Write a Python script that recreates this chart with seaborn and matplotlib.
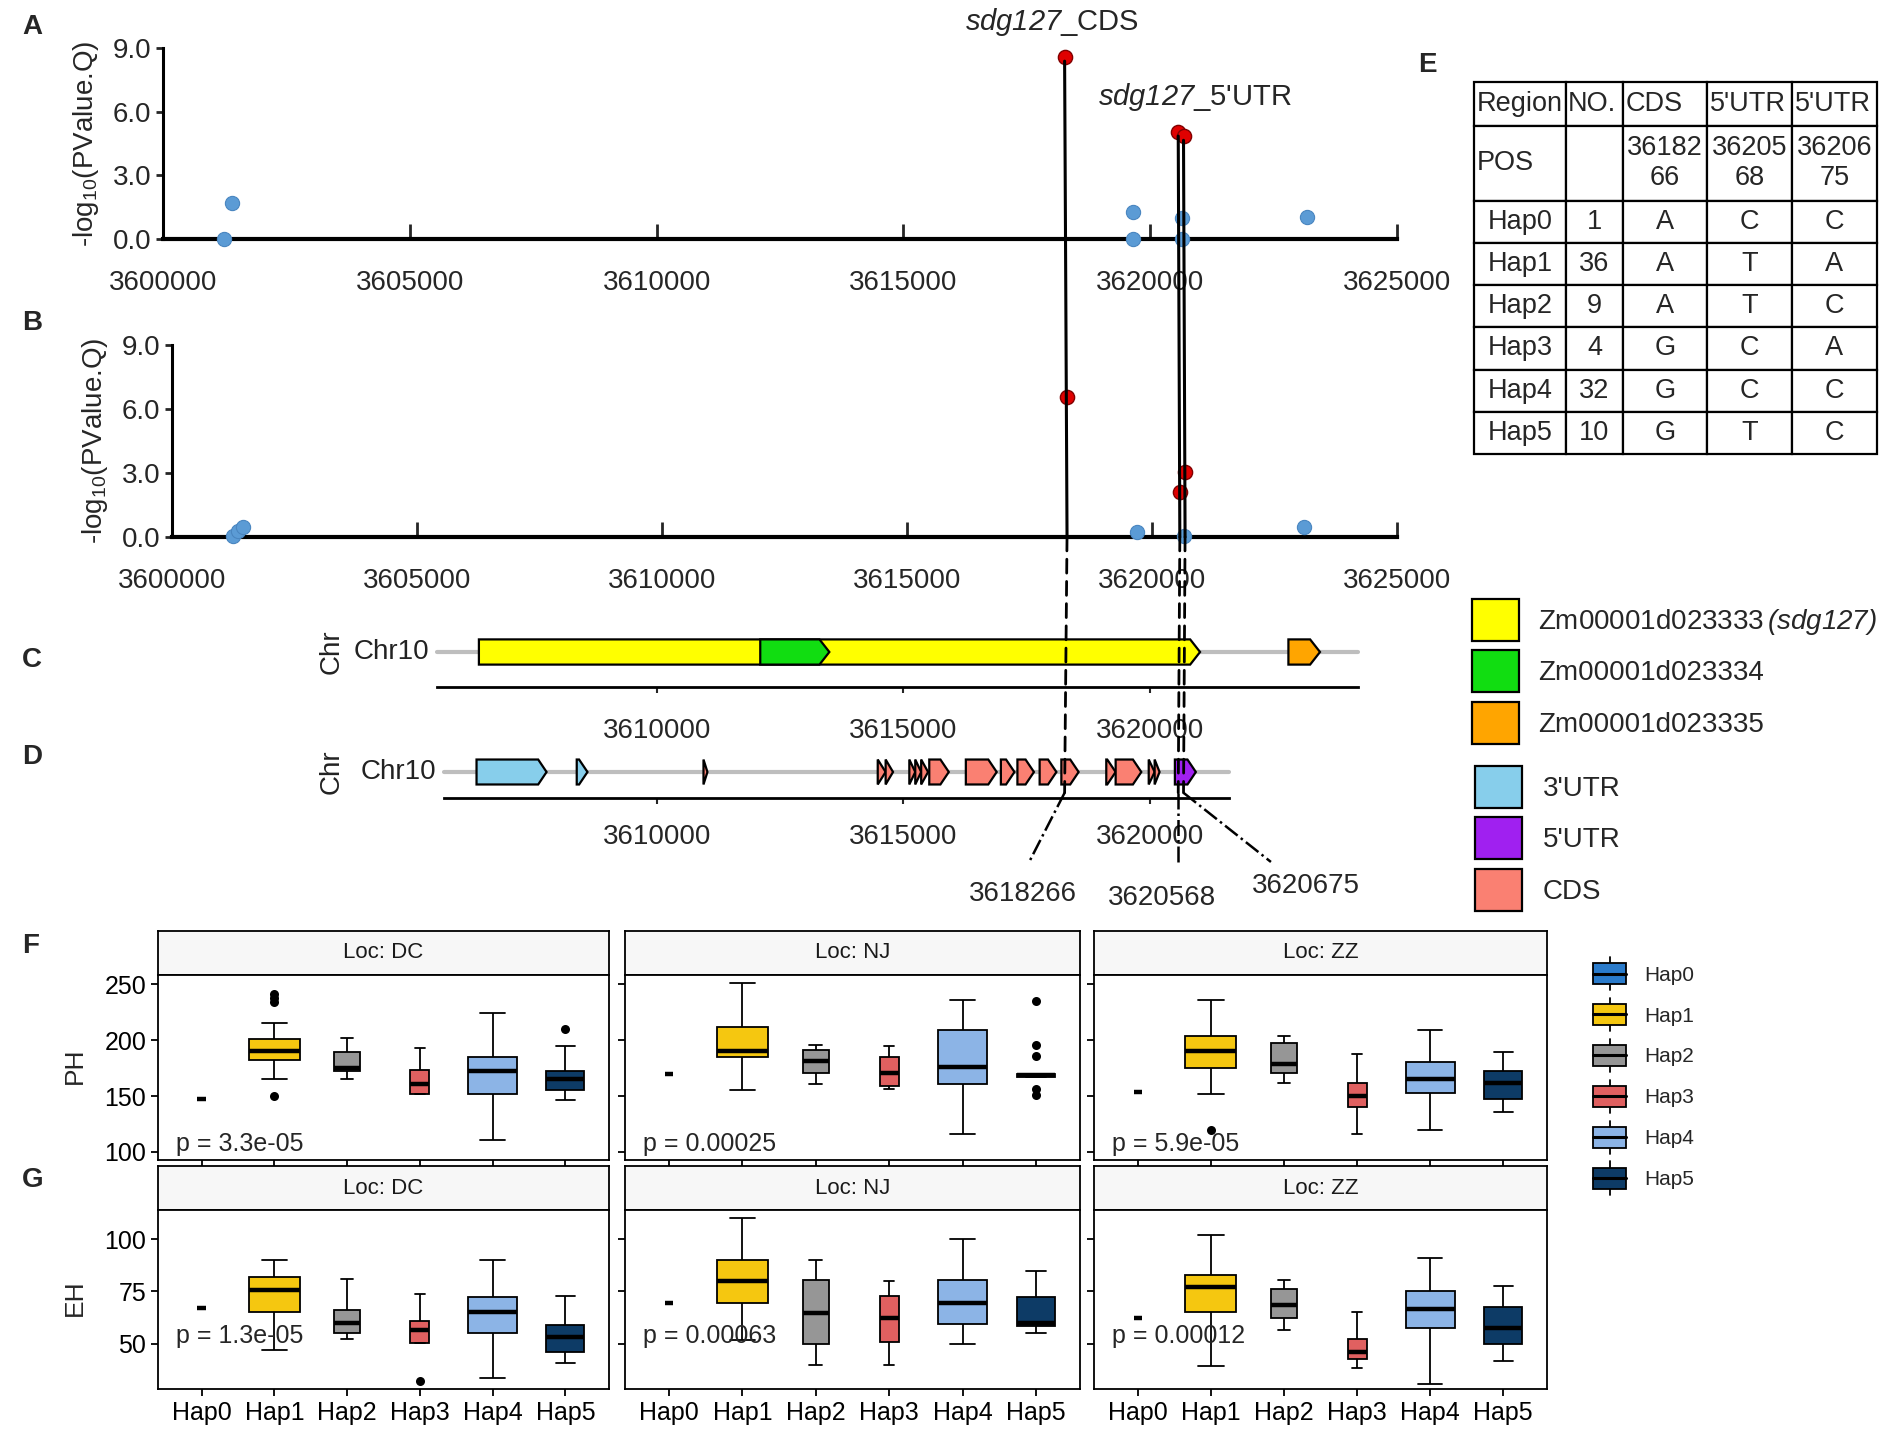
import numpy as np
import pandas as pd
import matplotlib
matplotlib.use('Agg')
import matplotlib.pyplot as plt
from matplotlib.patches import Polygon, Patch, Rectangle, ConnectionPatch
from matplotlib.lines import Line2D
from matplotlib.legend_handler import HandlerBase
import seaborn as sns

sns.set_style('white')
plt.rcParams['font.family'] = ['Liberation Sans', 'DejaVu Sans']
plt.rcParams['mathtext.fontset'] = 'custom'
plt.rcParams['mathtext.rm'] = 'Liberation Sans'
plt.rcParams['mathtext.it'] = 'Liberation Sans:italic'
# \mathsf is used for fully italic gene names (digits included)
plt.rcParams['mathtext.sf'] = 'Liberation Sans:italic'

W, H = 1890, 1450

# ---------------------------------------------------------------
# data: association scan (A, B)
# ---------------------------------------------------------------
blue_A_pos = [3601240, 3601390, 3619660, 3619660, 3620640, 3620640, 3623170]
blue_A_val = [0.0, 1.7, 1.27, 0.0, 1.0, 0.0, 1.05]
blue_B_pos = [3601250, 3601350, 3601450, 3619700, 3620650, 3623100]
blue_B_val = [0.05, 0.3, 0.45, 0.25, 0.05, 0.45]
lead_pos = [3618266, 3620568, 3620675]
lead_A_val = [8.58, 5.05, 4.85]
lead_B_val = [6.56, 2.1, 3.05]
lead_labels = ['3618266', '3620568', '3620675']
scan_ticks = [3600000, 3605000, 3610000, 3615000, 3620000, 3625000]

# gene models (C)
gene_names = ['Zm00001d023333', 'Zm00001d023334', 'Zm00001d023335']
gene_start = [3606400, 3612100, 3622800]
gene_end = [3621010, 3613500, 3623440]
gene_colors = ['#FFFF00', '#11DD11', '#FFA500']
track_C = [3605550, 3624210]

# transcript features (D)
feat_type = ['3UTR', '3UTR', 'CDS', 'CDS', 'CDS', 'CDS', 'CDS', 'CDS', 'CDS', 'CDS',
             'CDS', 'CDS', 'CDS', 'CDS', 'CDS', 'CDS', 'CDS', 'CDS', '5UTR']
feat_start = [3606352, 3608382, 3610950, 3614480, 3614640, 3615120, 3615240, 3615360,
              3615524, 3616265, 3616975, 3617310, 3617760, 3618200, 3619110, 3619300,
              3619970, 3620090, 3620500]
feat_end = [3607771, 3608600, 3611030, 3614640, 3614790, 3615240, 3615360, 3615500,
            3615920, 3616890, 3617250, 3617645, 3618100, 3618550, 3619300, 3619820,
            3620090, 3620190, 3620925]
feat_colors = {'3UTR': '#87CEEB', '5UTR': '#A020F0', 'CDS': '#FA8072'}
feat_names = {'3UTR': "3'UTR", '5UTR': "5'UTR", 'CDS': 'CDS'}
track_D = [3605690, 3621600]

# position labels under D
label_x = [3617427, 3620240, 3623155]
label_y = [-4.69, -4.85, -4.38]
guide_end_x = [3617548, 3620568, 3622446]
guide_end_y = [-3.46, -3.46, -3.46]

# haplotype table (E)
tab_header = ['Region', 'NO.', 'CDS', "5'UTR", "5'UTR"]
tab_pos = ['POS', '', '36182\n66', '36205\n68', '36206\n75']
haps = ['Hap0', 'Hap1', 'Hap2', 'Hap3', 'Hap4', 'Hap5']
tab_no = ['1', '36', '9', '4', '32', '10']
tab_cds = ['A', 'A', 'A', 'G', 'G', 'G']
tab_utr1 = ['C', 'T', 'T', 'C', 'C', 'T']
tab_utr2 = ['C', 'A', 'C', 'A', 'C', 'C']

# phenotypes (F, G): [lower whisker, Q1, median, Q3, upper whisker] per haplotype
locs = ['DC', 'NJ', 'ZZ']
hap_colors = ['#2A7BCB', '#F5C710', '#969696', '#E06060', '#8CB4E6', '#0D3B66']
n_pheno = [1, 36, 9, 5, 33, 20]

ph_dc = [[147], [165, 182, 190, 201, 215], [165, 172, 175, 189, 202], [152, 152, 161, 173, 193],
         [111, 152, 172, 185, 224], [146, 155, 165, 172, 195]]
ph_nj = [[170], [155, 185, 190, 212, 251], [161, 171, 181, 191, 196], [156, 159, 171, 185, 195],
         [116, 161, 176, 209, 236], [167, 167, 169, 170, 170]]
ph_zz = [[154], [152, 175, 190, 204, 236], [162, 171, 179, 197, 204], [116, 140, 150, 162, 188],
         [120, 153, 165, 180, 209], [136, 147, 162, 172, 189]]
eh_dc = [[67], [47, 65, 75.5, 82, 90], [52.5, 55, 60, 66, 81], [50.3, 50.3, 56.5, 61, 73.7],
         [33.6, 55, 65, 72.3, 90], [41, 46, 53, 59, 72.6]]
eh_nj = [[69.7], [52, 69.4, 79.8, 90, 110], [40, 50, 64.6, 80.3, 90], [40, 51, 62.2, 72.6, 79.8],
         [50, 59.5, 69.7, 80.3, 100], [55, 58.7, 59.8, 72.4, 84.6]]
eh_zz = [[62.3], [39.5, 65.3, 77, 82.8, 102], [56.4, 62.4, 68.5, 76.2, 80.3], [38.5, 42.7, 46.1, 52.5, 65],
         [30.6, 57.3, 66.5, 75.3, 91], [41.6, 50, 57.7, 67.8, 77.8]]

ph_out_loc = ['DC', 'DC', 'DC', 'DC', 'DC', 'NJ', 'NJ', 'NJ', 'NJ', 'NJ', 'ZZ']
ph_out_hap = ['Hap1', 'Hap1', 'Hap1', 'Hap1', 'Hap5', 'Hap5', 'Hap5', 'Hap5', 'Hap5', 'Hap5', 'Hap1']
ph_out_val = [241, 237.5, 234, 150, 210, 235, 196, 186, 156, 151, 120]
eh_out_loc = ['DC']
eh_out_hap = ['Hap3']
eh_out_val = [32]

p_ph = ['p = 3.3e-05', 'p = 0.00025', 'p = 5.9e-05']
p_eh = ['p = 1.3e-05', 'p = 0.00063', 'p = 0.00012']

# ---------------------------------------------------------------
fig = plt.figure(figsize=(W / 100, H / 100), dpi=100)


def px_axes(l, t, r, b):
    return fig.add_axes([l / W, 1 - b / H, (r - l) / W, (b - t) / H])


def scan_panel(ax, bpos, bval, rval):
    sns.scatterplot(x=bpos, y=bval, color='#5B9BD5', edgecolor='#4A86C0', linewidth=0.8,
                    s=105, ax=ax, zorder=4, clip_on=False)
    sns.scatterplot(x=lead_pos, y=rval, color='#E00000', edgecolor='#800000', linewidth=1,
                    s=105, ax=ax, zorder=4, clip_on=False)
    ax.set_xlim(3600000, 3625000)
    ax.set_ylim(0, 9)
    ax.set_xticks(scan_ticks)
    ax.set_xticklabels([str(t) for t in scan_ticks])
    ax.set_yticks([0, 3, 6, 9])
    ax.set_yticklabels(['0.0', '3.0', '6.0', '9.0'])
    for s in ['top', 'right']:
        ax.spines[s].set_visible(False)
    ax.spines['bottom'].set_linewidth(3)
    ax.spines['left'].set_linewidth(2.2)
    for s in ['bottom', 'left']:
        ax.spines[s].set_color('black')
    ax.tick_params(axis='x', direction='in', length=11, width=2, pad=22, labelsize=20, bottom=True)
    ax.tick_params(axis='y', direction='out', length=5, width=2, labelsize=20, left=True)
    ax.set_ylabel(r'-log$_{10}$(PValue.Q)', fontsize=20, labelpad=8)
    ax.set_facecolor('none')


axA = px_axes(163, 48, 1397, 239)
scan_panel(axA, blue_A_pos, blue_A_val, lead_A_val)
axB = px_axes(172, 345, 1397, 537)
scan_panel(axB, blue_B_pos, blue_B_val, lead_B_val)

fig.text(1052 / W, 1 - 22 / H, r'$\mathsf{sdg127}$_CDS', fontsize=21, ha='center', va='center')
fig.text(1195 / W, 1 - 97 / H, r"$\mathsf{sdg127}$_5'UTR", fontsize=21, ha='center', va='center')


# ---------------------------------------------------------------
def arrow(ax, start, end, color, half, head):
    hl = min(head, end - start)
    pts = [(start, -half), (end - hl, -half), (end, 0), (end - hl, half), (start, half)]
    ax.add_patch(Polygon(pts, closed=True, facecolor=color, edgecolor='black', lw=1.6, zorder=3))


def track_axes(ax, track, pad):
    ax.set_xlim(3600000, 3625000)
    ax.set_ylim(-1, 1)
    ax.plot(track, [0, 0], color='#BEBEBE', lw=3, zorder=1)
    for s in ['top', 'right', 'left']:
        ax.spines[s].set_visible(False)
    ax.spines['bottom'].set_bounds(track[0], track[1])
    ax.spines['bottom'].set_linewidth(2)
    ax.spines['bottom'].set_color('black')
    ax.set_yticks([])
    ax.set_xticks([3610000, 3615000, 3620000])
    ax.set_xticklabels(['3610000', '3615000', '3620000'])
    ax.tick_params(axis='x', direction='out', length=4, width=1.5, pad=pad, labelsize=20, bottom=True)
    ax.text(track[0] - 150, 0, 'Chr10', fontsize=20, ha='right', va='center', color='#222222')
    ax.text(3600000 + (332 - 163) * 20.24, 0, 'Chr', fontsize=20, rotation=90,
            ha='center', va='center', color='#222222')
    ax.set_facecolor('none')


axC = px_axes(163, 617, 1397, 687)
track_axes(axC, track_C, 18)
for s, e, c in zip(gene_start, gene_end, gene_colors):
    arrow(axC, s, e, c, 0.36, 200)

axD = px_axes(163, 746, 1397, 798)
track_axes(axD, track_D, 14.5)
for t, s, e in zip(feat_type, feat_start, feat_end):
    arrow(axD, s, e, feat_colors[t], 0.48, 170)

# connecting lines between the panels
for x, ya in zip(lead_pos, lead_A_val):
    fig.add_artist(ConnectionPatch(xyA=(x, ya - 0.2), coordsA=axA.transData, xyB=(x, 0),
                                   coordsB=axB.transData, color='black', lw=2.2))
    fig.add_artist(ConnectionPatch(xyA=(x, 0), coordsA=axB.transData, xyB=(x, -0.8),
                                   coordsB=axD.transData, color='black', lw=2, linestyle=(0, (5, 3))))

for x, gx, gy, lx, ly, lab in zip(lead_pos, guide_end_x, guide_end_y, label_x, label_y, lead_labels):
    axD.plot([x, gx], [-0.8, gy], color='black', lw=1.8, linestyle='-.', clip_on=False)
    axD.text(lx, ly, lab, fontsize=20, ha='center', va='center', clip_on=False)

# legends for gene tracks
gene_handles = [Patch(facecolor=c, edgecolor='black', lw=1.6) for c in gene_colors]
gene_labels = [gene_names[0] + r'$\,\mathsf{(sdg127)}$', gene_names[1], gene_names[2]]
fig.legend(gene_handles, gene_labels, loc='upper left', bbox_to_anchor=(1472 / W, 1 - 599 / H),
           frameon=False, fontsize=20, handlelength=1.7, handleheight=1.95, labelspacing=0.34,
           handletextpad=0.68, borderaxespad=0, borderpad=0)
ft = ['3UTR', '5UTR', 'CDS']
feat_handles = [Patch(facecolor=feat_colors[t], edgecolor='black', lw=1.6) for t in ft]
fig.legend(feat_handles, [feat_names[t] for t in ft], loc='upper left',
           bbox_to_anchor=(1475 / W, 1 - 766 / H), frameon=False, fontsize=20,
           handlelength=1.7, handleheight=1.95, labelspacing=0.34, handletextpad=0.75,
           borderaxespad=0, borderpad=0)

# ---------------------------------------------------------------
# table E
axE = px_axes(1474, 82, 1877, 454)
axE.axis('off')
cell_text = [tab_header, tab_pos] + [[h, n, a, b, c] for h, n, a, b, c in
                                     zip(haps, tab_no, tab_cds, tab_utr1, tab_utr2)]
col_w = np.array([92, 57, 84, 85, 85], dtype=float)
tbl = axE.table(cellText=cell_text, cellLoc='center', colWidths=list(col_w / col_w.sum()),
                bbox=[0, 0, 1, 1])
tbl.auto_set_font_size(False)
tbl.set_fontsize(19.5)
row_h = np.array([44, 74] + [42] * 6, dtype=float)
for (r, c), cell in tbl.get_celld().items():
    cell.set_height(row_h[r] / row_h.sum())
    cell.set_linewidth(1.6)
    cell.PAD = 0.03
    if r == 0 or (r == 1 and c == 0):
        cell.get_text().set_ha('left')

# ---------------------------------------------------------------
# boxplots F, G
rows = []
for trait, tables in [('PH', [ph_dc, ph_nj, ph_zz]), ('EH', [eh_dc, eh_nj, eh_zz])]:
    for loc, tab in zip(locs, tables):
        for hap, vals in zip(haps, tab):
            for v in vals:
                rows.append((trait, loc, hap, v))
box_df = pd.DataFrame(rows, columns=['trait', 'loc', 'hap', 'value'])
out_df = pd.DataFrame({
    'trait': ['PH'] * len(ph_out_val) + ['EH'] * len(eh_out_val),
    'loc': ph_out_loc + eh_out_loc,
    'hap': ph_out_hap + eh_out_hap,
    'value': ph_out_val + eh_out_val,
})
box_w = [0.7 * np.sqrt(n / max(n_pheno)) for n in n_pheno]

panel_x = [(158, 609), (625, 1080), (1094, 1547)]
trait_rows = [('PH', 931, 975, 1160, (92.8, 258.2), [100, 150, 200, 250], p_ph, 107),
              ('EH', 1166, 1210, 1389, (28.4, 113.9), [50, 75, 100], p_eh, 53.7)]

for trait, st, pt, pb, ylim, yt, ptxt, py in trait_rows:
    for k, (loc, (l, r)) in enumerate(zip(locs, panel_x)):
        sax = px_axes(l, st, r, pt)
        sax.set_facecolor('#F7F7F7')
        sax.set_xticks([])
        sax.set_yticks([])
        for s in sax.spines.values():
            s.set_color('black')
            s.set_linewidth(1.3)
        sax.text(0.5, 0.5, 'Loc: ' + loc, ha='center', va='center', fontsize=16,
                 color='#1A1A1A', transform=sax.transAxes)

        ax = px_axes(l, pt, r, pb)
        sub = box_df[(box_df.trait == trait) & (box_df['loc'] == loc)]
        for j, hap in enumerate(haps):
            sns.boxplot(data=sub[sub.hap == hap], x='hap', y='value', order=haps,
                        width=box_w[j], color=hap_colors[j], saturation=1,
                        linecolor='black', linewidth=1.3, whis=(0, 100), showfliers=False,
                        medianprops=dict(color='black', linewidth=3.2), ax=ax)
        osub = out_df[(out_df.trait == trait) & (out_df['loc'] == loc)]
        if len(osub):
            sns.stripplot(data=osub, x='hap', y='value', order=haps, jitter=False,
                          color='black', size=6.5, ax=ax)
        ax.set_xlim(-0.6, 5.6)
        ax.set_ylim(*ylim)
        ax.set_yticks(yt)
        ax.set_xlabel('')
        ax.set_ylabel('')
        for s in ax.spines.values():
            s.set_visible(True)
            s.set_color('black')
            s.set_linewidth(1.3)
        ax.tick_params(axis='both', direction='out', length=5, width=1.3, labelsize=18,
                       bottom=True, left=True, colors='black')
        if k > 0:
            ax.set_yticklabels([])
        if trait == 'PH':
            ax.set_xticklabels([])
        ax.text(-0.35, py, ptxt[k], fontsize=18, ha='left', va='center')

fig.text(75 / W, 1 - 1066 / H, 'PH', rotation=90, fontsize=19, ha='center', va='center')
fig.text(75 / W, 1 - 1298 / H, 'EH', rotation=90, fontsize=19, ha='center', va='center')


# haplotype legend: small box-plot keys
class BoxKey(HandlerBase):
    def create_artists(self, legend, orig_handle, xdescent, ydescent, width, height,
                       fontsize, trans):
        x0, y0 = -xdescent, -ydescent
        cx = x0 + width / 2
        whisk = Line2D([cx, cx], [y0 - 0.3 * height, y0 + 1.3 * height], color='black',
                       lw=1.3, transform=trans)
        rect = Rectangle((x0, y0), width, height, facecolor=orig_handle.get_facecolor(),
                         edgecolor='black', lw=1.3, transform=trans)
        med = Line2D([x0, x0 + width], [y0 + height / 2] * 2, color='black', lw=2.2,
                     transform=trans)
        return [whisk, rect, med]


hap_handles = [Patch(facecolor=c) for c in hap_colors]
fig.legend(hap_handles, haps, handler_map={Patch: BoxKey()},
           loc='upper left', bbox_to_anchor=(1593 / W, 1 - 963 / H), frameon=False,
           fontsize=15, handlelength=1.6, handleheight=1.18, labelspacing=0.93,
           handletextpad=0.85, borderaxespad=0, borderpad=0)

# panel letters
for lab, x, y in [('A', 22, 27), ('B', 22, 323), ('C', 22, 660), ('D', 22, 757),
                  ('E', 1418, 65), ('F', 22, 946), ('G', 22, 1180)]:
    fig.text(x / W, 1 - y / H, lab, fontsize=20, fontweight='bold', ha='left', va='center')

fig.savefig('out.png', dpi=100)
